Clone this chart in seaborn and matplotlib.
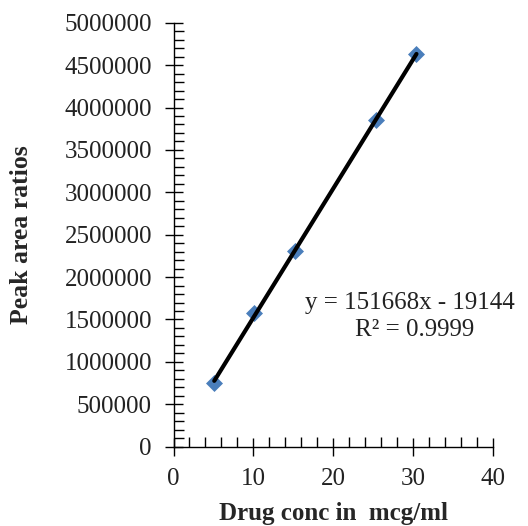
import matplotlib
matplotlib.use("Agg")
import matplotlib.pyplot as plt
import seaborn as sns
import pandas as pd
from matplotlib.ticker import MultipleLocator

# calibration data
conc = [5.1, 10.1, 15.2, 25.3, 30.4]
peak_area = [755000, 1573000, 2305000, 3853000, 4630000]
equation = "y = 151668x - 19144"
r_squared = "R\u00b2 = 0.9999"

df = pd.DataFrame({"conc": conc, "area": peak_area})

sns.set_style("ticks")
plt.rcParams["font.family"] = ["Liberation Serif", "DejaVu Serif"]

fig = plt.figure(figsize=(5.28, 5.26), dpi=100)
ax = fig.add_axes([0.3286, 0.1508, 0.6055, 0.806])

sns.scatterplot(data=df, x="conc", y="area", marker="D", s=75,
                color="#4A7EBB", edgecolor="#4A7EBB", linewidth=0, ax=ax, zorder=2)
sns.regplot(data=df, x="conc", y="area", scatter=False, ci=None, truncate=True,
            color="black", line_kws={"linewidth": 3, "zorder": 3}, ax=ax)

ax.set_xlim(0, 40)
ax.set_ylim(0, 5000000)
ax.xaxis.set_major_locator(MultipleLocator(10))
ax.xaxis.set_minor_locator(MultipleLocator(2))
ax.yaxis.set_major_locator(MultipleLocator(500000))
ax.yaxis.set_minor_locator(MultipleLocator(100000))
ax.ticklabel_format(style="plain", axis="y")

ax.tick_params(which="major", direction="inout", length=13, width=1, color="black",
               labelsize=18, labelcolor="#222222")
ax.tick_params(which="minor", direction="in", length=7, width=1, color="black")
ax.tick_params(axis="x", pad=9)
ax.tick_params(axis="y", pad=9)

sns.despine(ax=ax)
for sp in ["left", "bottom"]:
    ax.spines[sp].set_color("black")
    ax.spines[sp].set_linewidth(1)

ax.set_xlabel("Drug conc in  mcg/ml", fontsize=18, fontweight="bold")
ax.set_ylabel("Peak area ratios", fontsize=18.5, fontweight="bold")
ax.xaxis.set_label_coords(0.5, -0.13)
ax.yaxis.set_label_coords(-0.44, 0.5)

fig.text(0.578, 0.424, equation, fontsize=18, va="center", ha="left", color="#222222")
fig.text(0.786, 0.372, r_squared, fontsize=18, va="center", ha="center", color="#222222")

fig.savefig("out.png", dpi=100)
